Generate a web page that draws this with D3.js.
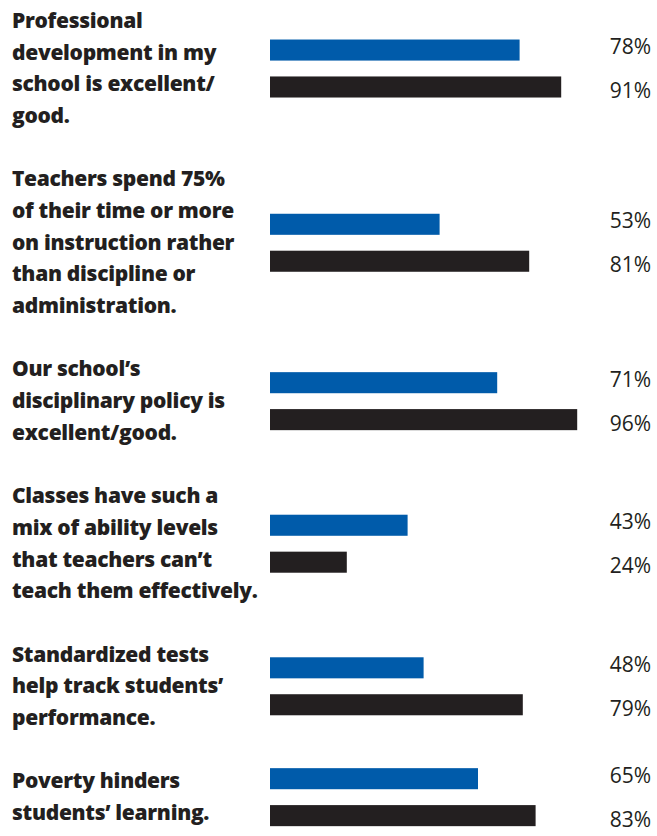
<!DOCTYPE html>
<html>
<head>
<meta charset="utf-8">
<script src="https://cdn.jsdelivr.net/npm/d3@7"></script>
<style>
  body { margin: 0; background: #fff; }
  svg { display: block; }
  .label { font-family: "Open Sans", sans-serif; font-weight: 800; font-size: 21px; fill: #231f20; letter-spacing: -0.3px; }
  .pct { font-family: "Open Sans", sans-serif; font-size: 21px; fill: #231f20; }
</style>
</head>
<body>
<div id="chart"></div>
<script>
// statement labels, already broken into lines as in the print layout
const statements = [
  ["Professional", "development in my", "school is excellent/", "good."],
  ["Teachers spend 75%", "of their time or more", "on instruction rather", "than discipline or", "administration."],
  ["Our school\u2019s", "disciplinary policy is", "excellent/good."],
  ["Classes have such a", "mix of ability levels", "that teachers can\u2019t", "teach them effectively."],
  ["Standardized tests", "help track students\u2019", "performance."],
  ["Poverty hinders", "students\u2019 learning."]
];

// blue series, then black series (percent agreeing)
const blueValues = [78, 53, 71, 43, 48, 65];
const blackValues = [91, 81, 96, 24, 79, 83];

const seriesKeys = ["blue", "black"];
const seriesColors = ["#005baa", "#231f20"];

const width = 657, height = 836;

const svg = d3.select("#chart")
  .append("svg")
  .attr("width", width)
  .attr("height", height);

// every label line sits on a common baseline grid, one blank line between statements
let lineIdx = 0;
const groups = statements.map((lines, i) => {
  const first = lineIdx;
  lineIdx += lines.length + 1;
  return {lines, first, last: first + lines.length - 1, blue: blueValues[i], black: blackValues[i]};
});
const totalLines = lineIdx - 1;

const yLine = d3.scaleLinear()
  .domain([0, totalLines - 1])
  .range([28, 820]);

const x = d3.scaleLinear()
  .domain([0, 100])
  .range([270, 590]);

// bars within a statement
const yBar = d3.scaleBand()
  .domain(seriesKeys)
  .range([-29, 29])
  .paddingInner(0.43);

const color = d3.scaleOrdinal().domain(seriesKeys).range(seriesColors);

const mid = d => (yLine(d.first) + yLine(d.last)) / 2 - 7;

const g = svg.selectAll("g.stmt")
  .data(groups)
  .join("g")
  .attr("class", "stmt")
  .attr("transform", d => `translate(0,${mid(d)})`);

g.append("text")
  .attr("class", "label")
  .selectAll("tspan")
  .data(d => d.lines.map((l, j) => ({text: l, y: yLine(d.first + j) - mid(d)})))
  .join("tspan")
  .attr("x", 12)
  .attr("y", l => l.y)
  .text(l => l.text);

const rows = g.selectAll("g.row")
  .data(d => seriesKeys.map(k => ({key: k, value: d[k]})))
  .join("g")
  .attr("class", "row");

rows.append("rect")
  .attr("x", x(0))
  .attr("y", d => yBar(d.key))
  .attr("width", d => x(d.value) - x(0))
  .attr("height", yBar.bandwidth())
  .attr("fill", d => color(d.key));

// percentages are spread a little wider than the bars
rows.append("text")
  .attr("class", "pct")
  .attr("x", 651)
  .attr("y", d => d.key === "blue" ? -22 : 22)
  .attr("dy", "0.35em")
  .attr("text-anchor", "end")
  .text(d => d.value + "%");
</script>
</body>
</html>
